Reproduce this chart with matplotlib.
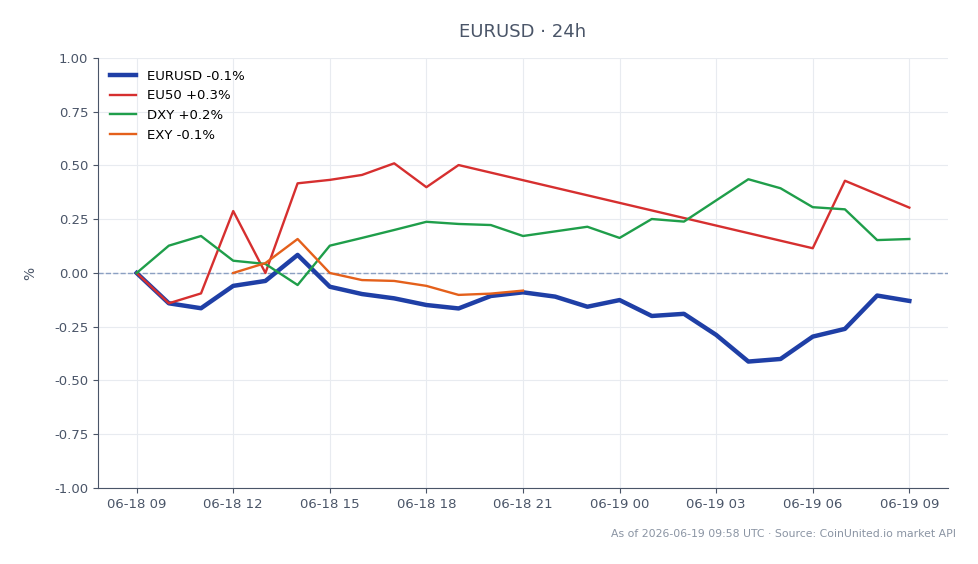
"""EURUSD 24h relative move vs EU50, DXY and EXY."""
import matplotlib
matplotlib.use("Agg")
import matplotlib.pyplot as plt
import matplotlib.dates as mdates
import numpy as np
import pandas as pd

# hourly points, % change from start (None = no print that hour)
hours = pd.date_range("2026-06-18 09:00", "2026-06-19 09:00", freq="h")

eurusd = [0.0, -0.141, -0.164, -0.060, -0.037, 0.084, -0.064, -0.098, -0.118, -0.149,
          -0.165, -0.107, -0.090, -0.110, -0.157, -0.126, -0.200, -0.190, -0.288, -0.412,
          -0.400, -0.296, -0.260, -0.105, -0.130]
eu50 = [0.0, -0.141, -0.095, 0.288, 0.0, 0.417, 0.433, 0.456, 0.510, 0.399,
        0.502, None, None, None, None, None, None, None, None, None,
        None, 0.115, 0.429, None, 0.304]
dxy = [0.0, 0.127, 0.172, 0.057, 0.042, -0.056, 0.127, 0.163, 0.200, 0.238,
       0.228, 0.223, 0.172, None, 0.215, 0.163, 0.251, 0.239, None, 0.436,
       0.394, 0.306, 0.296, 0.153, 0.158]
exy = [None, None, None, 0.0, 0.046, 0.158, 0.0, -0.033, -0.037, -0.060,
       -0.102, -0.096, -0.082, None, None, None, None, None, None, None,
       None, None, None, None, None]

series = [
    ("EURUSD -0.1%", eurusd, "#1f3fa6", 3.2),
    ("EU50 +0.3%", eu50, "#d62f2f", 1.7),
    ("DXY +0.2%", dxy, "#1f9e4a", 1.7),
    ("EXY -0.1%", exy, "#e4601b", 1.7),
]

TXT = "#4a5568"

fig = plt.figure(figsize=(9.79, 5.64), dpi=100)
ax = fig.add_axes([0.1001, 0.1348, 0.8682, 0.7624])

for label, vals, color, lw in series:
    s = pd.Series(vals, index=hours, dtype=float).dropna()
    ax.plot(s.index, s.values, color=color, linewidth=lw, label=label, zorder=3)

ax.axhline(0, color="#8ba0c2", linestyle="--", linewidth=1, zorder=2)

ax.set_ylim(-1.0, 1.0)
ax.set_yticks(np.arange(-1.0, 1.01, 0.25))
ax.yaxis.set_major_formatter(matplotlib.ticker.FormatStrFormatter("%.2f"))
ax.xaxis.set_major_locator(mdates.HourLocator(byhour=range(0, 24, 3)))
ax.xaxis.set_major_formatter(mdates.DateFormatter("%m-%d %H"))

ax.grid(True, color="#e8ebf0", linewidth=0.8, zorder=0)
ax.spines["top"].set_visible(False)
ax.spines["right"].set_visible(False)
for sp in ("left", "bottom"):
    ax.spines[sp].set_color(TXT)
ax.tick_params(colors=TXT, labelsize=9.5)
ax.set_ylabel("%", color=TXT, fontsize=10, labelpad=12)

ax.set_title("EURUSD · 24h", color=TXT, fontsize=13, pad=15)
ax.legend(loc="upper left", frameon=False, fontsize=9.5, handlelength=2.0)

fig.text(0.976, 0.045, "As of 2026-06-19 09:58 UTC · Source: CoinUnited.io market API",
         ha="right", va="bottom", fontsize=7.8, color="#8a94a3")

fig.savefig("out.png", dpi=100)
